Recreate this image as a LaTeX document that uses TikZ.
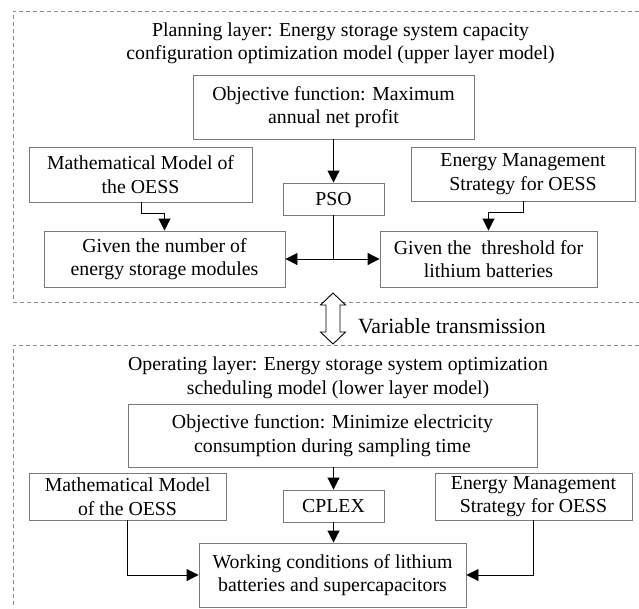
\documentclass[tikz,border=0pt]{standalone}
\usepackage{fontspec}
\setmainfont{Liberation Serif}
\usetikzlibrary{arrows.meta}
\definecolor{boxgray}{HTML}{7A7A7A}
\definecolor{dashgray}{HTML}{8C8C8C}
\newcommand\mytxt{\fontsize{19.8pt}{23.5pt}\selectfont}
\newcommand\mybig{\fontsize{21.7pt}{25pt}\selectfont}
\begin{document}
\begin{tikzpicture}[x=1pt,y=-1pt,
  box/.style={draw=boxgray, line width=0.9pt, fill=white, inner sep=0pt, align=center, font=\mytxt},
  conn/.style={draw=black, line width=0.9pt},
  arr/.style={conn, -{Triangle[length=12pt,width=12pt]}},
  frame/.style={draw=dashgray, line width=0.8pt, dash pattern=on 4pt off 3pt},
  lbl/.style={inner sep=0pt, align=center, font=\mytxt}]
\useasboundingbox (0,0) rectangle (639,608);

% dashed layer frames
\draw[frame] (639,11) -- (13,11) -- (13,302) -- (639,302);
\draw[frame] (639,345) -- (13,345) -- (13,608);

% ---------- planning layer ----------
\node[lbl] (title1) at (340.5,43.5) {Planning layer: Energy storage system capacity\\configuration optimization model (upper layer model)};
\node[box, minimum width=281pt, minimum height=64pt] (obj1) at (333.5,107) {Objective function: Maximum\\annual net profit};
\node[box, minimum width=223pt, minimum height=55pt] (math1) at (140.5,174.5) {Mathematical Model of\\the OESS};
\node[box, minimum width=101pt, minimum height=32pt] (pso) at (333.5,199) {PSO};
\node[box, minimum width=224pt, minimum height=54pt] (energy1) at (523,174) {Energy Management\\Strategy for OESS};
\node[box, minimum width=241pt, minimum height=56pt] (given1) at (164.5,259) {Given the number of\\energy storage modules};
\node[box, minimum width=217pt, minimum height=56pt] (thresh) at (488.5,259) {Given the~ threshold for\\lithium batteries};

\coordinate (j1) at (pso.south |- given1.east);
\draw[arr] (obj1.south -| pso.north) -- (pso.north);
\draw[conn] (pso.south) -- (j1);
\draw[arr] (j1) -- (given1.east);
\draw[arr] (j1) -- (thresh.west);
\draw[arr] (141,0 |- math1.south) -- (141,213) -- (given1.north |- 0,213) -- (given1.north);
\draw[arr] (energy1.south) -- (energy1.south |- 0,212) -- (thresh.north |- 0,212) -- (thresh.north);

% ---------- variable transmission ----------
\draw[line width=0.9pt, fill=white] (333,293) -- (320.5,305) -- (326,305) -- (326,332) -- (320.5,332) -- (333,344)
  -- (345.5,332) -- (340,332) -- (340,305) -- (345.5,305) -- cycle;
\node[inner sep=0pt, anchor=west, font=\mybig] (vt) at (358,326) {Variable transmission};

% ---------- operating layer ----------
\node[lbl] (title2) at (338,378) {Operating layer: Energy storage system optimization\\scheduling model (lower layer model)};
\node[box, minimum width=409pt, minimum height=63pt] (obj2) at (332.5,435.5) {Objective function: Minimize electricity\\consumption during sampling time};
\node[box, minimum width=197pt, minimum height=47pt] (math2) at (127.5,496.5) {Mathematical Model\\of the OESS};
\node[box, minimum width=101pt, minimum height=32pt] (cplex) at (333.5,506) {CPLEX};
\node[box, minimum width=197pt, minimum height=47pt] (energy2) at (533.5,496.5) {Energy Management\\Strategy for OESS};
\node[box, minimum width=267pt, minimum height=64pt] (work) at (332.5,575) {Working conditions of lithium\\batteries and supercapacitors};

\draw[arr] (cplex.north |- obj2.south) -- (cplex.north);
\draw[arr] (cplex.south) -- (cplex.south |- work.north);
\draw[arr] (math2.south) -- (math2.south |- work.west) -- (work.west);
\draw[arr] (energy2.south) -- (energy2.south |- work.east) -- (work.east);
\end{tikzpicture}
\end{document}
